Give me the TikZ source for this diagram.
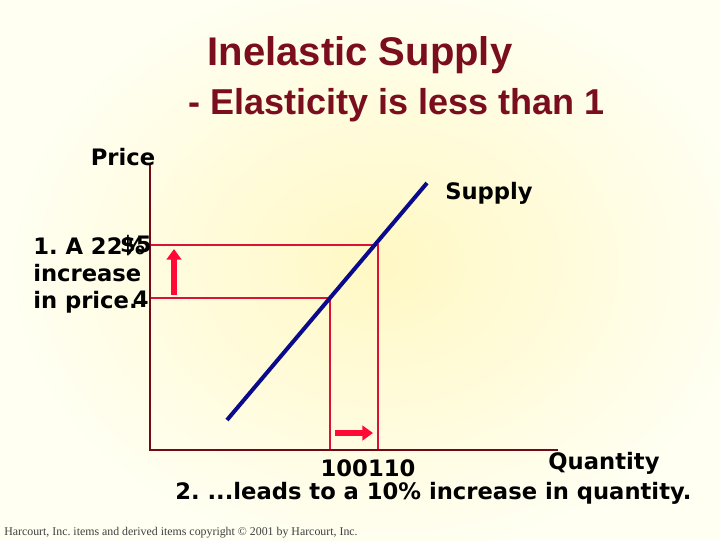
\documentclass[tikz,border=0pt]{standalone}
\usepackage{fontspec}
\setmainfont{Liberation Serif}
\newfontfamily\titlefont{Liberation Sans}
\newfontfamily\labelfont{DejaVu Sans}
\usetikzlibrary{arrows.meta, positioning}
\frenchspacing

\definecolor{cream}{HTML}{FFFFF2}
\definecolor{glow}{HTML}{FFF8C4}
\definecolor{maroon}{HTML}{7A0E1E}
\definecolor{axisred}{HTML}{700A18}
\definecolor{guidered}{HTML}{DA1238}
\definecolor{hotred}{HTML}{FF0A36}
\definecolor{navy}{HTML}{0A0A8C}

\begin{document}
\begin{tikzpicture}[
    x=0.75pt, y=-0.75pt,
    title/.style={text=maroon, font=\titlefont\bfseries\fontsize{30}{34}\selectfont, inner sep=0pt},
    subtitle/.style={text=maroon, font=\titlefont\bfseries\fontsize{27}{31}\selectfont, inner sep=0pt},
    lbl/.style={font=\labelfont\bfseries\fontsize{17}{20.25}\selectfont, inner sep=0pt},
    axis/.style={draw=axisred, line width=1.9pt},
    guide/.style={draw=guidered, line width=1.1pt},
    supply/.style={draw=navy, line width=3pt},
    push/.style={draw=hotred, line width=4.5pt, -{Triangle[width=11pt, length=8pt]}}
]
    % background
    \useasboundingbox (0,0) rectangle (720,540);
    \fill[cream] (0,0) rectangle (720,540);
    \shade[inner color=glow, outer color=cream] (380,265) ellipse [x radius=370, y radius=290];

    % titles
    \node[title] (head) at (360,55) {Inelastic Supply};
    \node[subtitle, anchor=west] (sub) at (188,105) {- Elasticity is less than 1};

    % axes and levels
    \coordinate (origin) at (150,450);
    \coordinate (ytop) at (150,165);
    \coordinate (xend) at (558,450);
    \coordinate (p5) at (150,245);
    \coordinate (p4) at (150,298);
    \coordinate (q110) at (378,450);
    \coordinate (q100) at (330,450);
    \coordinate (hi) at (378,245);
    \coordinate (lo) at (330,298);

    \draw[guide] (p5) -- (hi) -- (q110);
    \draw[guide] (p4) -- (lo) -- (q100);
    \draw[axis] (ytop) -- (origin) -- (xend);

    % supply curve
    \coordinate (sbot) at (227,420);
    \coordinate (stop) at (427,183);
    \draw[supply] (sbot) -- (stop);

    % change arrows
    \coordinate (upfrom) at (174,295);
    \coordinate (upto) at (174,249);
    \coordinate (rtfrom) at (335,433);
    \coordinate (rtto) at (373,433);
    \draw[push] (upfrom) -- (upto);
    \draw[push] (rtfrom) -- (rtto);

    % labels
    \node[lbl] (price) at (123,157) {Price};
    \node[lbl] (quantity) at (604,463) {Quantity};
    \node[lbl] (slabel) at (489,193) {Supply};
    \node[lbl, anchor=east] (five) at (152,246) {\$5};
    \node[lbl, anchor=east] (four) at (149,299) {4};
    \node[lbl, anchor=west, align=left] (note1) at (33,275) {1. A 22\%\\increase\\in price.};
    \node[lbl] (qvals) at (368,468) {100110};
    \node[lbl, anchor=west] (note2) at (175,493) {2. ...leads to a 10\% increase in quantity.};

    \node[anchor=west, inner sep=0pt, text=black!75, font=\fontsize{8.9}{10}\selectfont] (credit) at (4,533)
        {Harcourt, Inc. items and derived items copyright \textcopyright{} 2001 by Harcourt, Inc.};
\end{tikzpicture}
\end{document}
